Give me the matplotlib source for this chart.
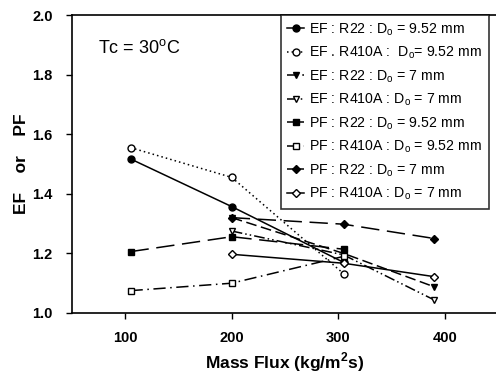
import matplotlib
matplotlib.use("Agg")
import matplotlib.pyplot as plt

plt.rcParams['font.family'] = ['Liberation Sans', 'DejaVu Sans']
plt.rcParams['mathtext.fontset'] = 'custom'
plt.rcParams['mathtext.rm'] = 'Liberation Sans'
plt.rcParams['mathtext.bf'] = 'Liberation Sans:bold'

x_952 = [105, 200, 305]
x_7 = [200, 305, 390]

ef_r22_952 = [1.517, 1.357, 1.17]
ef_r410a_952 = [1.555, 1.455, 1.132]
ef_r22_7 = [1.32, 1.20, 1.088]
ef_r410a_7 = [1.275, 1.195, 1.044]
pf_r22_952 = [1.206, 1.256, 1.214]
pf_r410a_952 = [1.075, 1.100, 1.19]
pf_r22_7 = [1.32, 1.298, 1.25]
pf_r410a_7 = [1.197, 1.167, 1.122]

labels = [
    r"EF : R22 : D$_\mathregular{o}$ = 9.52 mm",
    r"EF . R410A :  D$_\mathregular{o}$= 9.52 mm",
    r"EF : R22 : D$_\mathregular{o}$ = 7 mm",
    r"EF : R410A : D$_\mathregular{o}$ = 7 mm",
    r"PF : R22 : D$_\mathregular{o}$ = 9.52 mm",
    r"PF : R410A : D$_\mathregular{o}$ = 9.52 mm",
    r"PF : R22 : D$_\mathregular{o}$ = 7 mm",
    r"PF : R410A : D$_\mathregular{o}$ = 7 mm",
]

fig = plt.figure(figsize=(4.96, 3.76), dpi=100)
ax = fig.add_axes([72/496, 1-313/376, 426/496, 298/376])

series = [
    (x_952, ef_r22_952, '-', 'o', 'k'),
    (x_952, ef_r410a_952, (0, (1, 2)), 'o', 'w'),
    (x_7, ef_r22_7, (0, (7, 3)), 'v', 'k'),
    (x_7, ef_r410a_7, (0, (7, 2, 1, 2, 1, 2)), 'v', 'w'),
    (x_952, pf_r22_952, (0, (12, 5)), 's', 'k'),
    (x_952, pf_r410a_952, (0, (8, 3, 1, 3)), 's', 'w'),
    (x_7, pf_r22_7, (0, (12, 5)), 'D', 'k'),
    (x_7, pf_r410a_7, '-', 'D', 'w'),
]

for (xs, ys, ls, mk, fc), lab in zip(series, labels):
    ms = 5 if mk != 'D' else 4.5
    ax.plot(xs, ys, linestyle=ls, color='k', linewidth=1.1, marker=mk,
            markerfacecolor=fc, markeredgecolor='k', markersize=ms,
            markeredgewidth=1.0, label=lab)

ax.set_xlim(50, 450)
ax.set_ylim(1.0, 2.0)
ax.set_xticks([100, 200, 300, 400])
ax.set_yticks([1.0, 1.2, 1.4, 1.6, 1.8, 2.0])
ax.set_yticklabels(['1.0', '1.2', '1.4', '1.6', '1.8', '2.0'])
ax.tick_params(direction='out', length=4, width=1, labelsize=10.5)
ax.tick_params(axis='y', pad=10)
ax.tick_params(axis='x', pad=9)
for t in ax.get_xticklabels() + ax.get_yticklabels():
    t.set_fontweight('bold')
ax.spines['right'].set_visible(False)
for s in ['left', 'bottom', 'top']:
    ax.spines[s].set_linewidth(1.2)

ax.set_xlabel(r"Mass Flux (kg/m$^\mathbf{2}$s)", fontsize=12.5, fontweight='bold', labelpad=4)
ax.set_ylabel("EF    or    PF", fontsize=12.5, fontweight='bold', labelpad=2)

ax.text((98-72)/426, (313-48)/298, r"Tc = 30$^\mathregular{o}$C", transform=ax.transAxes,
        fontsize=13, ha='left', va='center')

leg = ax.legend(loc='upper left', bbox_to_anchor=((281-72)/426, 1.0),
                fontsize=10.2, frameon=True, fancybox=False, edgecolor='k',
                handlelength=1.2, handletextpad=0.35, labelspacing=0.5,
                borderpad=0.45, borderaxespad=0.0)
leg.get_frame().set_linewidth(1.2)

fig.savefig("out.png", dpi=100)
